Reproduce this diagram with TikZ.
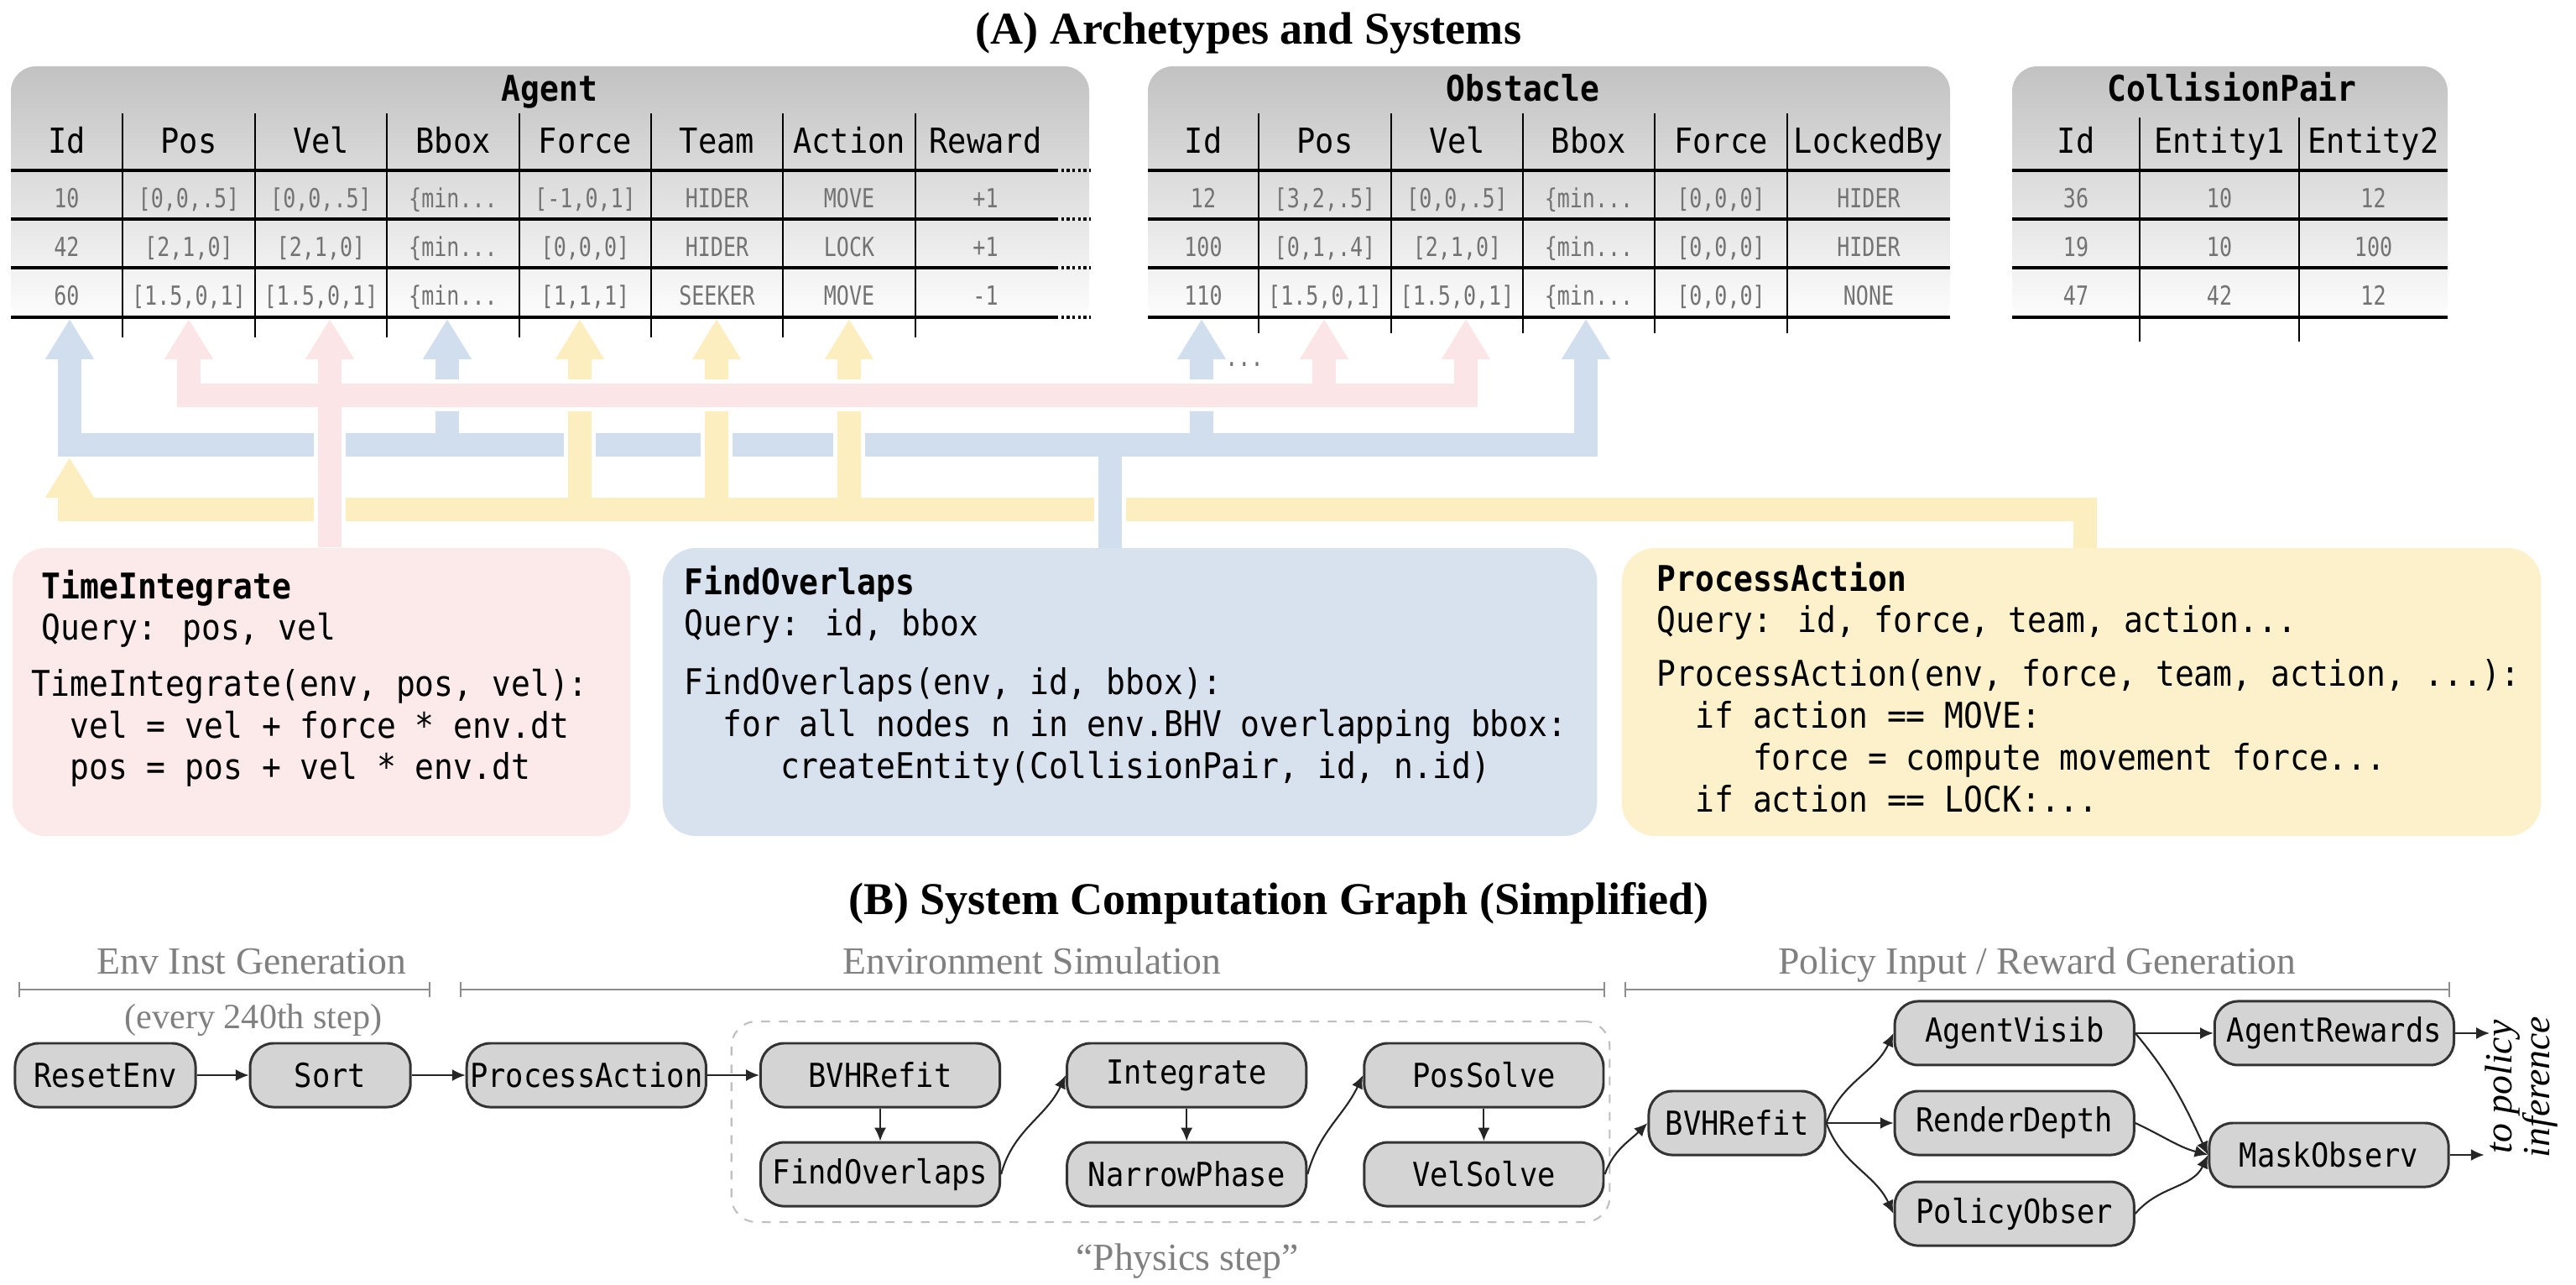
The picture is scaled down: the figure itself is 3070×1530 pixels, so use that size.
\documentclass[tikz,border=0pt]{standalone}
\usepackage{fontspec}
\setmainfont{Liberation Serif}
\newfontfamily\codefont[FakeStretch=0.9]{DejaVu Sans Mono}
\newfontfamily\cellfont[FakeStretch=0.8]{DejaVu Sans Mono}
\usetikzlibrary{positioning, arrows.meta}

\definecolor{arrowblue}{RGB}{209,222,237}
\definecolor{arrowpink}{RGB}{252,229,231}
\definecolor{arrowyellow}{RGB}{253,238,192}
\definecolor{boxpink}{RGB}{252,234,234}
\definecolor{boxblue}{RGB}{216,226,239}
\definecolor{boxyellow}{RGB}{253,241,203}

\begin{document}
\begin{tikzpicture}[x=0.01cm, y=-0.01cm,
        table_bg/.style={top color=black!24, bottom color=white, rounded corners=0.3cm},
        table_title/.style={font=\codefont\bfseries\fontsize{12}{14}\selectfont, inner sep=0, anchor=base},
        col_head/.style={font=\codefont\fontsize{11.7}{14}\selectfont, inner sep=0, anchor=base},
        cell/.style={font=\cellfont\fontsize{8.9}{11}\selectfont, text=black!55, inner sep=0, anchor=base},
        row_line/.style={line width=0.9pt},
        col_line/.style={line width=0.5pt},
        flow/.style={line width=7.8pt, >={Triangle[width=15.6pt,length=13.7pt]}},
        halo_line/.style={draw=white, line width=11pt},
        code_box/.style={rounded corners=0.4cm, minimum height=3.43cm},
        code_text/.style={font=\codefont\fontsize{12}{14.2}\selectfont, inner sep=0, anchor=north west, align=left},
        section_title/.style={font=\bfseries\fontsize{15.4}{18}\selectfont, inner sep=0, anchor=base},
        phase_label/.style={font=\fontsize{13}{15}\selectfont, text=black!50, inner sep=0, anchor=base},
        phase_bracket/.style={draw=black!45, line width=0.7pt, arrows={Bar[width=5pt]-Bar[width=5pt]}},
        physics_box/.style={draw=black!25, dashed, line width=0.6pt, rounded corners=0.3cm, minimum width=10.46cm, minimum height=2.39cm},
        sys_node/.style={draw=black!80, fill=black!17, rounded corners=0.28cm, line width=0.85pt, minimum width=2.85cm, minimum height=0.76cm, inner xsep=1pt, font=\codefont\fontsize{11.2}{13}\selectfont},
        sys_edge/.style={draw=black!85, line width=0.6pt, -{Latex[length=4.5pt,width=4pt]}}
        ]
            \useasboundingbox (0,0) rectangle (3070,1530);

            % titles
            \node[section_title] (title_a) at (1488,52)   {(A) Archetypes and Systems};
            \node[section_title] (title_b) at (1524,1089) {(B) System Computation Graph (Simplified)};

            % Agent table
            \shade[table_bg] (13,79) rectangle (1298,390);
            \node[table_title] (agent_title) at (655,120) {Agent};
            \foreach \x/\h [count=\i] in {79.5/Id, 225/Pos, 382.5/Vel, 540/Bbox, 697.5/Force, 854.5/Team, 1012/Action, 1174.5/Reward}
                \node[col_head] (agent_head_\i) at (\x,182) {\h};
            \foreach \x/\ra/\rb/\rc [count=\i] in {79.5/10/42/60, 225/{[0,0,.5]}/{[2,1,0]}/{[1.5,0,1]}, 382.5/{[0,0,.5]}/{[2,1,0]}/{[1.5,0,1]}, 540/{\{min...}/{\{min...}/{\{min...}, 697.5/{[-1,0,1]}/{[0,0,0]}/{[1,1,1]}, 854.5/HIDER/HIDER/SEEKER, 1012/MOVE/LOCK/MOVE, 1174.5/+1/+1/-1}{
                \node[cell] (agent_\i_a) at (\x,247) {\ra};
                \node[cell] (agent_\i_b) at (\x,305) {\rb};
                \node[cell] (agent_\i_c) at (\x,363) {\rc};
            }
            \foreach \y in {203,261,319,378}{
                \draw[row_line] (13,\y) -- (1258,\y);
                \draw[row_line, densely dotted] (1258,\y) -- (1300,\y);
            }
            \foreach \x in {146,304,461,619,776,933,1091}
                \draw[col_line] (\x,135) -- (\x,402);

            % Obstacle table
            \shade[table_bg] (1368,79) rectangle (2324,390);
            \node[table_title] (obstacle_title) at (1815,120) {Obstacle};
            \foreach \x/\h [count=\i] in {1434/Id, 1579/Pos, 1736.5/Vel, 1893.5/Bbox, 2051/Force, 2227/LockedBy}
                \node[col_head] (obstacle_head_\i) at (\x,182) {\h};
            \foreach \x/\ra/\rb/\rc [count=\i] in {1434/12/100/110, 1579/{[3,2,.5]}/{[0,1,.4]}/{[1.5,0,1]}, 1736.5/{[0,0,.5]}/{[2,1,0]}/{[1.5,0,1]}, 1893.5/{\{min...}/{\{min...}/{\{min...}, 2051/{[0,0,0]}/{[0,0,0]}/{[0,0,0]}, 2227/HIDER/HIDER/NONE}{
                \node[cell] (obstacle_\i_a) at (\x,247) {\ra};
                \node[cell] (obstacle_\i_b) at (\x,305) {\rb};
                \node[cell] (obstacle_\i_c) at (\x,363) {\rc};
            }
            \foreach \y in {203,261,319,378}
                \draw[row_line] (1368,\y) -- (2324,\y);
            \foreach \x in {1500,1658,1815,1972,2130}
                \draw[col_line] (\x,135) -- (\x,397);

            % CollisionPair table
            \shade[table_bg] (2398,79) rectangle (2917,390);
            \node[table_title] (pair_title) at (2660,120) {CollisionPair};
            \foreach \x/\h [count=\i] in {2474/Id, 2645/Entity1, 2828.5/Entity2}
                \node[col_head] (pair_head_\i) at (\x,182) {\h};
            \foreach \x/\ra/\rb/\rc [count=\i] in {2474/36/19/47, 2645/10/10/42, 2828.5/12/100/12}{
                \node[cell] (pair_\i_a) at (\x,247) {\ra};
                \node[cell] (pair_\i_b) at (\x,305) {\rb};
                \node[cell] (pair_\i_c) at (\x,363) {\rc};
            }
            \foreach \y in {203,261,319,378}
                \draw[row_line] (2398,\y) -- (2917,\y);
            \foreach \x in {2550,2740}
                \draw[col_line] (\x,140) -- (\x,407);

            % system boxes
            \node[code_box, fill=boxpink,   minimum width=7.36cm]  (box_ti) at (383,824.5)    {};
            \node[code_box, fill=boxblue,   minimum width=11.13cm] (box_fo) at (1346.5,824.5) {};
            \node[code_box, fill=boxyellow, minimum width=10.95cm] (box_pa) at (2480.5,824.5) {};

            % query arrows
            \coordinate (tip_a_id)     at (83,380);
            \coordinate (tip_a_pos)    at (225,380);
            \coordinate (tip_a_vel)    at (393,380);
            \coordinate (tip_a_bbox)   at (533,380);
            \coordinate (tip_a_force)  at (691,380);
            \coordinate (tip_a_team)   at (854,380);
            \coordinate (tip_a_action) at (1012,380);
            \coordinate (tip_a_idy)    at (83,545);
            \coordinate (tip_o_id)     at (1432,380);
            \coordinate (tip_o_pos)    at (1578,380);
            \coordinate (tip_o_vel)    at (1747,380);
            \coordinate (tip_o_bbox)   at (1890,380);
            \coordinate (bar_pink)     at (1000,471);
            \coordinate (bar_blue)     at (1000,530);
            \coordinate (bar_blue_low) at (1000,544);
            \coordinate (bar_yellow)   at (1000,607);
            \coordinate (stem_fo)      at (1323,653);
            \coordinate (stem_pa)      at (2485,653);

            % FindOverlaps
            \draw[flow, arrowblue, <->] (tip_a_id) |- (bar_blue) -| (tip_o_bbox);
            \draw[flow, arrowblue, ->] (bar_blue -| tip_a_bbox) -- (tip_a_bbox);
            \draw[flow, arrowblue, ->] (bar_blue -| tip_o_id) -- (tip_o_id);
            % ProcessAction
            \draw[halo_line] (stem_pa) |- (bar_yellow) -| (tip_a_idy)
                (bar_yellow -| tip_a_force) -- (tip_a_force)
                (bar_yellow -| tip_a_team) -- (tip_a_team)
                (bar_yellow -| tip_a_action) -- (tip_a_action);
            \draw[flow, arrowyellow, ->] (stem_pa) |- (bar_yellow) -| (tip_a_idy);
            \draw[flow, arrowyellow, ->] (bar_yellow -| tip_a_force) -- (tip_a_force);
            \draw[flow, arrowyellow, ->] (bar_yellow -| tip_a_team) -- (tip_a_team);
            \draw[flow, arrowyellow, ->] (bar_yellow -| tip_a_action) -- (tip_a_action);
            \draw[halo_line] (stem_fo) -- (stem_fo |- bar_blue_low);
            \draw[flow, arrowblue] (stem_fo) -- (stem_fo |- bar_blue);
            % TimeIntegrate
            \draw[halo_line] (tip_a_pos) |- (bar_pink) -| (tip_o_vel)
                (bar_pink -| tip_o_pos) -- (tip_o_pos)
                (box_ti.north -| tip_a_vel) -- (tip_a_vel);
            \draw[flow, arrowpink, <->] (tip_a_pos) |- (bar_pink) -| (tip_o_vel);
            \draw[flow, arrowpink, ->] (bar_pink -| tip_o_pos) -- (tip_o_pos);
            \draw[flow, arrowpink, ->] (box_ti.north -| tip_a_vel) -- (tip_a_vel);
            \node[cell] (dots_obs) at (1483,436) {...};

            % code
            \node[code_text] (text_ti) at (37,678) {\hspace*{0.12cm}\textbf{TimeIntegrate}\\
                \hspace*{0.12cm}Query: pos, vel\\[4.6pt]
                TimeIntegrate(env, pos, vel):\\
                \phantom{xx}vel = vel + force * env.dt\\
                \phantom{xx}pos = pos + vel * env.dt};
            \node[code_text] (text_fo) at (815,673) {\textbf{FindOverlaps}\\
                Query: id, bbox\\[5.6pt]
                FindOverlaps(env, id, bbox):\\
                \phantom{xx}for all nodes n in env.BHV overlapping bbox:\\
                \phantom{xxxxx}createEntity(CollisionPair, id, n.id)};
            \node[code_text] (text_pa) at (1974,669) {\textbf{ProcessAction}\\
                Query: id, force, team, action...\\[4pt]
                ProcessAction(env, force, team, action, ...):\\
                \phantom{xx}if action == MOVE:\\
                \phantom{xxxxx}force = compute movement force...\\
                \phantom{xx}if action == LOCK:...};

            % phases
            \node[phase_label] (lbl_inst) at (300,1160)  {Env Inst Generation};
            \node[phase_label] (lbl_sim)  at (1230,1160) {Environment Simulation};
            \node[phase_label] (lbl_pol)  at (2428,1160) {Policy Input / Reward Generation};
            \node[phase_label, font=\fontsize{12}{14}\selectfont] (lbl_every) at (302,1225) {(every 240th step)};
            \draw[phase_bracket] (22,1179) -- (513,1179);
            \draw[phase_bracket] (548,1179) -- (1913,1179);
            \draw[phase_bracket] (1936,1179) -- (2920,1179);
            \node[physics_box] (physics) at (1395,1336.5) {};
            \node[phase_label] (lbl_physics) at (1415,1513) {``Physics step''};

            % graph
            \node[sys_node, minimum width=2.15cm] (reset) at (125.5,1281) {ResetEnv};
            \node[sys_node, minimum width=1.91cm] (sort)   [right = 0.62cm of reset] {Sort};
            \node[sys_node]                       (proc)   [right = 0.64cm of sort]  {ProcessAction};
            \node[sys_node]                       (bvh_a)  [right = 0.62cm of proc]  {BVHRefit};
            \node[sys_node]                       (find)   [below = 0.39cm of bvh_a] {FindOverlaps};
            \node[sys_node]                       (integ)  [right = 0.77cm of bvh_a] {Integrate};
            \node[sys_node]                       (narrow) [below = 0.39cm of integ] {NarrowPhase};
            \node[sys_node]                       (pos)    [right = 0.66cm of integ] {PosSolve};
            \node[sys_node]                       (vel)    [below = 0.39cm of pos]   {VelSolve};
            \node[sys_node, minimum width=2.1cm]  (bvh_b) at (2070,1338) {BVHRefit};
            \node[sys_node]                       (depth)  [right = 0.8cm of bvh_b]  {RenderDepth};
            \node[sys_node]                       (visib)  [above = 0.28cm of depth] {AgentVisib};
            \node[sys_node]                       (obser)  [below = 0.29cm of depth] {PolicyObser};
            \node[sys_node]                       (reward) [right = 0.93cm of visib] {AgentRewards};
            \node[sys_node]                       (mask) at (2775.5,1376) {MaskObserv};
            \coordinate[right = 0.41cm of reward] (out_reward);
            \coordinate[right = 0.41cm of mask]   (out_mask);
            \node[rotate=90, align=center, inner sep=0, font=\itshape\fontsize{13}{11.5}\selectfont] (policy_note) at (3005,1295) {to policy\\inference};

            % edges
            \draw[sys_edge] (reset) -- (sort);
            \draw[sys_edge] (sort) -- (proc);
            \draw[sys_edge] (proc) -- (bvh_a);
            \draw[sys_edge] (bvh_a) -- (find);
            \draw[sys_edge] (find.east) to[out=75, in=-115] (integ.west);
            \draw[sys_edge] (integ) -- (narrow);
            \draw[sys_edge] (narrow.east) to[out=75, in=-115] (pos.west);
            \draw[sys_edge] (pos) -- (vel);
            \draw[sys_edge] (vel.east) to[out=70, in=-135] (bvh_b.west);
            \draw[sys_edge] (bvh_b.east) to[out=70, in=-115] (visib.west);
            \draw[sys_edge] (bvh_b) -- (depth);
            \draw[sys_edge] (bvh_b.east) to[out=-70, in=115] (obser.west);
            \draw[sys_edge] (visib) -- (reward);
            \draw[sys_edge] (visib.east) to[out=-50, in=115] (mask.west);
            \draw[sys_edge] (depth.east) to[out=-25, in=165] (mask.west);
            \draw[sys_edge] (obser.east) to[out=50, in=-115] (mask.west);
            \draw[sys_edge] (reward) -- (out_reward);
            \draw[sys_edge] (mask) -- (out_mask);
        \end{tikzpicture}
\end{document}
